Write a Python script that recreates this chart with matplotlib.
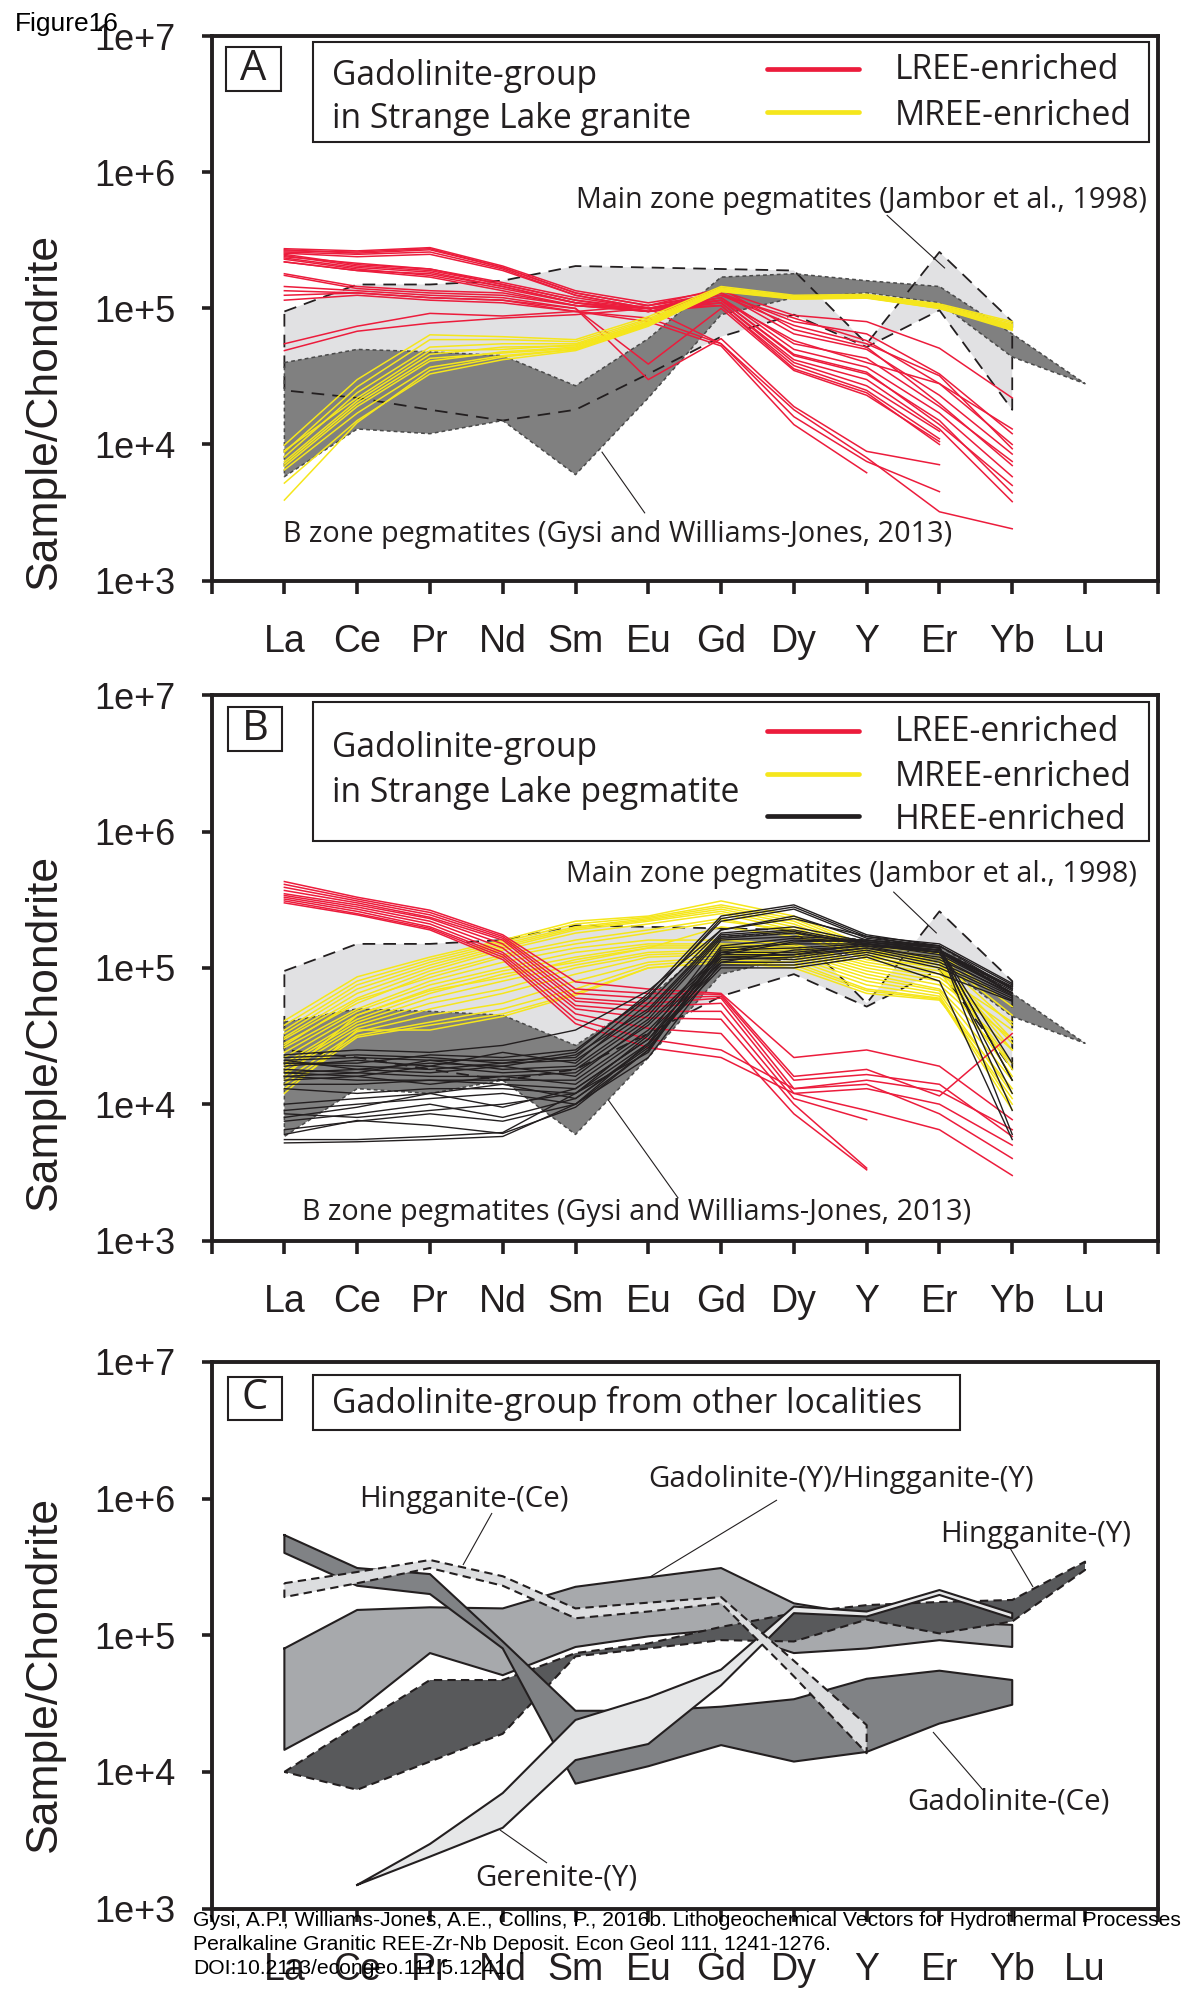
import numpy as np
import matplotlib
matplotlib.use('Agg')
import matplotlib.pyplot as plt
from matplotlib.patches import Rectangle
from matplotlib.lines import Line2D
from matplotlib.ticker import NullLocator

W, H = 1195, 1998
INK = '#231f20'
RED = '#ec1c3c'
YEL = '#f5e61c'
nan = np.nan

plt.rcParams['font.family'] = ['Liberation Sans', 'DejaVu Sans']

ELEMENTS = ['La', 'Ce', 'Pr', 'Nd', 'Sm', 'Eu', 'Gd', 'Dy', 'Y', 'Er', 'Yb', 'Lu']
YTICKS = [1e3, 1e4, 1e5, 1e6, 1e7]
YTICKLABELS = ['1e+3', '1e+4', '1e+5', '1e+6', '1e+7']

# main zone pegmatites (Jambor et al., 1998), La..Yb
MAIN_UP = [9.5e4, 1.5e5, 1.5e5, 1.6e5, 2.05e5, 2.0e5, 1.95e5, 1.9e5, 5.5e4, 2.6e5, 8.0e4]
MAIN_LO = [2.5e4, 2.2e4, 1.8e4, 1.5e4, 1.8e4, 3.3e4, 6.2e4, 9.0e4, 5.2e4, 9.7e4, 1.8e4]
# B zone pegmatites (Gysi and Williams-Jones, 2013), La..Lu
BZ_UP = [4.0e4, 5.0e4, 4.8e4, 4.5e4, 2.7e4, 6.0e4, 1.7e5, 1.8e5, 1.6e5, 1.45e5, 6.5e4, 2.8e4]
BZ_LO = [5.8e3, 1.3e4, 1.2e4, 1.5e4, 6.0e3, 2.2e4, 9.0e4, 1.2e5, 1.3e5, 1.1e5, 4.4e4, 2.8e4]

# panel A: granite, La..Yb
A_LREE = [
    [2.75e5, 2.65e5, 2.8e5, 2.05e5, 1.35e5, 1.1e5, 1.35e5, 8.9e4, 8.0e4, 5.1e4, 2.2e4],
    [2.7e5, 2.55e5, 2.7e5, 2.0e5, 1.3e5, 1.05e5, 1.3e5, 8.0e4, 6.5e4, 3.3e4, 1.2e4],
    [2.6e5, 2.5e5, 2.6e5, 1.95e5, 1.25e5, 1.0e5, 1.25e5, 7.5e4, 5.5e4, 3.2e4, 9.3e3],
    [2.55e5, 2.4e5, 2.5e5, 1.9e5, 1.25e5, 1.0e5, 1.3e5, 6.5e4, 5.0e4, 2.3e4, 8.5e3],
    [2.5e5, 2.1e5, 1.95e5, 1.55e5, 1.2e5, 1.0e5, 1.2e5, 5.5e4, 4.3e4, 1.9e4, 7.5e3],
    [2.45e5, 2.05e5, 1.9e5, 1.5e5, 1.15e5, 9.5e4, 1.2e5, 5.0e4, 3.7e4, 1.7e4, 5.8e3],
    [2.35e5, 2.0e5, 1.85e5, 1.45e5, 1.1e5, 9.5e4, 1.15e5, 4.5e4, 3.3e4, 1.5e4, 4.4e3],
    [2.3e5, 1.95e5, 1.75e5, 1.4e5, 1.1e5, 1.0e5, 1.1e5, 4.2e4, 3.0e4, 1.3e4, 3.8e3],
    [2.2e5, 1.9e5, 1.7e5, 1.35e5, 1.05e5, 9.5e4, 1.1e5, 4.0e4, 2.7e4, 1.25e4, nan],
    [1.8e5, 1.45e5, 1.35e5, 1.3e5, 1.05e5, 1.0e5, 1.05e5, 3.8e4, 2.5e4, 1.1e4, nan],
    [1.75e5, 1.4e5, 1.3e5, 1.25e5, 1.05e5, 9.5e4, 1.05e5, 3.6e4, 2.4e4, 1.0e4, nan],
    [1.45e5, 1.35e5, 1.25e5, 1.2e5, 1.0e5, 3.9e4, 1.0e5, 3.5e4, 2.3e4, 1.05e4, nan],
    [1.35e5, 1.3e5, 1.2e5, 1.15e5, 1.0e5, 3.0e4, 6.0e4, 1.9e4, 8.9e3, 7.1e3, nan],
    [1.25e5, 1.3e5, 1.2e5, 1.15e5, 9.5e4, 8.5e4, 5.5e4, 1.8e4, 8.0e3, 3.2e3, 2.4e3],
    [1.15e5, 1.25e5, 1.15e5, 1.1e5, 9.5e4, 8.0e4, 5.3e4, 1.4e4, 6.2e3, nan, nan],
    [5.5e4, 7.4e4, 9.2e4, 8.8e4, 9.5e4, 1.05e5, 1.25e5, 8.5e4, 5.8e4, 2.8e4, 1.0e4],
    [4.9e4, 6.8e4, 7.8e4, 8.5e4, 9.0e4, 1.0e5, 5.5e4, 1.6e4, 7.5e3, 4.5e3, nan],
    [2.65e5, 2.6e5, 2.75e5, 2.0e5, 1.3e5, 1.05e5, 1.4e5, 7.0e4, 5.2e4, 2.0e4, 7.0e3],
    [2.4e5, 2.15e5, 1.95e5, 1.5e5, 1.15e5, 1.0e5, 1.15e5, 4.6e4, 3.4e4, 1.4e4, 5.0e3],
    [2.2e5, 1.9e5, 1.8e5, 1.45e5, 1.1e5, 9.5e4, 1.15e5, 5.8e4, 4.0e4, 2.8e4, 1.3e4],
]
A_MREE = [
    [9.9e3, 3.0e4, 6.4e4, 6.2e4, 5.9e4, 8.7e4, 1.45e5, 1.25e5, 1.27e5, 1.08e5, 8.0e4],
    [8.8e3, 2.65e4, 5.9e4, 5.9e4, 5.7e4, 8.4e4, 1.42e5, 1.23e5, 1.25e5, 1.06e5, 7.8e4],
    [8.1e3, 2.4e4, 5.2e4, 5.5e4, 5.5e4, 8.2e4, 1.4e5, 1.22e5, 1.24e5, 1.05e5, 7.6e4],
    [7.5e3, 2.1e4, 4.6e4, 5.2e4, 5.3e4, 8.0e4, 1.38e5, 1.2e5, 1.22e5, 1.03e5, 7.4e4],
    [6.9e3, 1.9e4, 4.1e4, 4.8e4, 5.2e4, 7.8e4, 1.36e5, 1.19e5, 1.21e5, 1.02e5, 7.2e4],
    [6.5e3, 1.7e4, 3.7e4, 4.5e4, 5.0e4, 7.6e4, 1.35e5, 1.18e5, 1.2e5, 1.01e5, 7.0e4],
    [5.2e3, 1.5e4, 3.3e4, 4.2e4, 4.9e4, 7.4e4, 1.33e5, 1.17e5, 1.19e5, 1.0e5, 6.9e4],
    [3.9e3, 1.45e4, 3.5e4, 4.4e4, 5.0e4, 7.5e4, 1.34e5, 1.18e5, 1.2e5, 1.0e5, 7.1e4],
    [9.0e3, 2.2e4, 4.9e4, 5.0e4, 5.4e4, 7.9e4, 1.37e5, 1.2e5, 1.22e5, 1.03e5, 7.5e4],
    [7.2e3, 2.0e4, 4.3e4, 4.7e4, 5.1e4, 7.7e4, 1.36e5, 1.19e5, 1.21e5, 1.02e5, 7.3e4],
]

# panel B: pegmatite, La..Yb
B_LREE = [
    [4.3e5, 3.3e5, 2.65e5, 1.75e5, 7.9e4, 7.0e4, 6.5e4, 2.2e4, 2.5e4, 1.9e4, 7.7e3],
    [4.1e5, 3.2e5, 2.55e5, 1.7e5, 7.0e4, 6.5e4, 6.4e4, 1.6e4, 1.8e4, 1.15e4, 3.3e4],
    [3.9e5, 3.1e5, 2.45e5, 1.65e5, 6.5e4, 6.0e4, 6.2e4, 1.5e4, 1.65e4, 1.4e4, 5.8e3],
    [3.7e5, 3.0e5, 2.35e5, 1.6e5, 6.0e4, 5.5e4, 6.0e4, 1.3e4, 1.5e4, 1.25e4, 6.5e3],
    [3.5e5, 2.9e5, 2.3e5, 1.5e5, 5.7e4, 5.2e4, 5.5e4, 1.2e4, 1.3e4, 1.0e4, 5.0e3],
    [3.4e5, 2.8e5, 2.2e5, 1.4e5, 5.3e4, 4.8e4, 4.8e4, 1.1e4, 7.7e3, nan, nan],
    [3.3e5, 2.7e5, 2.1e5, 1.3e5, 5.0e4, 4.3e4, 4.2e4, 1.0e4, 3.4e3, nan, nan],
    [3.2e5, 2.6e5, 2.0e5, 1.25e5, 4.6e4, 3.6e4, 3.3e4, 8.5e3, 3.3e3, nan, nan],
    [3.1e5, 2.5e5, 1.95e5, 1.2e5, 4.2e4, 3.0e4, 2.5e4, 1.3e4, 1.4e4, 8.5e3, 4.0e3],
    [3.0e5, 2.45e5, 1.9e5, 1.15e5, 3.9e4, 2.6e4, 2.2e4, 1.2e4, 9.0e3, 6.5e3, 3.0e3],
]
B_MREE = [
    [4.1e4, 8.6e4, 1.2e5, 1.6e5, 2.2e5, 2.4e5, 3.1e5, 2.4e5, 1.45e5, 1.28e5, 5.2e4],
    [3.8e4, 8.0e4, 1.15e5, 1.55e5, 2.1e5, 2.35e5, 2.9e5, 2.3e5, 1.4e5, 1.2e5, 4.5e4],
    [3.5e4, 7.5e4, 1.1e5, 1.5e5, 2.0e5, 2.3e5, 2.8e5, 2.2e5, 1.35e5, 1.15e5, 3.8e4],
    [3.3e4, 7.0e4, 1.05e5, 1.45e5, 1.95e5, 2.25e5, 2.7e5, 2.1e5, 1.3e5, 1.1e5, 3.0e4],
    [3.1e4, 6.5e4, 1.0e5, 1.4e5, 1.9e5, 2.2e5, 2.6e5, 2.0e5, 1.25e5, 1.05e5, 2.5e4],
    [3.0e4, 6.0e4, 9.5e4, 1.35e5, 1.8e5, 2.1e5, 2.5e5, 1.9e5, 1.2e5, 1.0e5, 2.0e4],
    [2.8e4, 5.5e4, 9.0e4, 1.25e5, 1.6e5, 1.9e5, 2.3e5, 1.8e5, 1.15e5, 9.5e4, 1.6e4],
    [2.6e4, 5.0e4, 8.0e4, 1.1e5, 1.4e5, 1.6e5, 1.6e5, 1.5e5, 1.1e5, 9.0e4, 4.0e4],
    [2.4e4, 4.8e4, 7.5e4, 1.0e5, 1.3e5, 1.5e5, 1.5e5, 1.45e5, 1.05e5, 8.5e4, 3.5e4],
    [2.2e4, 4.5e4, 7.0e4, 9.5e4, 1.2e5, 1.45e5, 1.45e5, 1.4e5, 1.0e5, 8.0e4, 3.0e4],
    [2.0e4, 4.2e4, 6.5e4, 9.0e4, 1.1e5, 1.4e5, 1.4e5, 1.35e5, 9.5e4, 7.5e4, 2.5e4],
    [1.9e4, 4.0e4, 6.0e4, 8.0e4, 1.05e5, 1.3e5, 1.35e5, 1.3e5, 9.0e4, 7.0e4, 2.0e4],
    [1.8e4, 3.8e4, 5.5e4, 7.0e4, 1.0e5, 1.25e5, 1.3e5, 1.25e5, 8.5e4, 6.8e4, 1.5e4],
    [1.7e4, 3.6e4, 5.0e4, 6.5e4, 9.0e4, 1.2e5, 1.25e5, 1.2e5, 8.0e4, 6.5e4, 1.2e4],
    [1.5e4, 3.4e4, 4.5e4, 5.5e4, 8.0e4, 1.1e5, 1.2e5, 1.15e5, 7.5e4, 6.2e4, 1.0e4],
    [1.4e4, 3.2e4, 4.0e4, 5.0e4, 7.0e4, 1.05e5, 1.15e5, 1.1e5, 7.0e4, 6.0e4, 9.1e3],
    [1.3e4, 3.1e4, 3.8e4, 4.6e4, 6.5e4, 1.0e5, 1.1e5, 1.05e5, 6.8e4, 5.9e4, 1.1e4],
    [1.2e4, 3.5e4, 3.5e4, 4.4e4, 6.3e4, 1.0e5, 1.1e5, 1.0e5, 6.5e4, 5.8e4, 1.3e4],
    [1.6e4, 4.5e4, 6.8e4, 8.5e4, 1.15e5, 1.4e5, 2.0e5, 1.7e5, 1.2e5, 1.0e5, 2.8e4],
    [2.7e4, 5.8e4, 8.5e4, 1.2e5, 1.5e5, 1.8e5, 2.2e5, 1.9e5, 1.3e5, 1.1e5, 1.8e4],
]
B_HREE = [
    [2.2e4, 2.3e4, 2.2e4, 2.0e4, 2.4e4, 6.5e4, 2.4e5, 2.9e5, 1.75e5, 1.45e5, 7.5e4],
    [2.1e4, 2.2e4, 2.1e4, 2.1e4, 2.2e4, 6.0e4, 2.3e5, 2.8e5, 1.7e5, 1.4e5, 1.5e4],
    [2.0e4, 2.0e4, 2.3e4, 2.2e4, 2.5e4, 6.2e4, 2.2e5, 2.7e5, 1.65e5, 1.45e5, 9.0e3],
    [1.9e4, 2.1e4, 1.9e4, 2.4e4, 2.0e4, 5.5e4, 1.9e5, 2.4e5, 1.6e5, 1.4e5, 6.0e3],
    [2.1e4, 1.8e4, 2.0e4, 1.9e4, 2.3e4, 5.0e4, 1.8e5, 2.0e5, 1.55e5, 1.35e5, 7.0e4],
    [2.0e4, 1.9e4, 1.8e4, 2.0e4, 2.1e4, 4.8e4, 1.75e5, 1.9e5, 1.5e5, 1.3e5, 6.8e4],
    [1.8e4, 1.7e4, 2.1e4, 1.8e4, 1.9e4, 4.5e4, 1.7e5, 1.85e5, 1.45e5, 1.35e5, 6.5e4],
    [1.7e4, 1.6e4, 1.9e4, 1.7e4, 1.8e4, 4.2e4, 1.65e5, 1.8e5, 1.5e5, 1.3e5, 1.2e4],
    [1.7e4, 1.8e4, 1.7e4, 1.9e4, 1.6e4, 4.0e4, 1.3e5, 1.3e5, 1.45e5, 1.15e5, 6.5e4],
    [1.6e4, 1.7e4, 1.6e4, 1.6e4, 1.7e4, 3.8e4, 1.25e5, 1.25e5, 1.4e5, 1.1e5, 6.2e4],
    [1.6e4, 1.5e4, 1.5e4, 1.5e4, 1.5e4, 3.5e4, 1.2e5, 1.15e5, 1.35e5, 1.05e5, 6.0e4],
    [1.5e4, 1.6e4, 1.4e4, 1.6e4, 1.4e4, 3.3e4, 1.1e5, 1.1e5, 1.3e5, 1.0e5, 5.8e4],
    [1.4e4, 1.4e4, 1.5e4, 1.4e4, 1.3e4, 3.0e4, 1.05e5, 1.05e5, 1.25e5, 9.0e4, 5.7e4],
    [1.3e4, 1.2e4, 1.3e4, 1.3e4, 1.2e4, 2.8e4, 1.0e5, 1.0e5, 1.2e5, 8.0e4, 5.5e3],
    [1.0e4, 1.1e4, 1.2e4, 1.4e4, 1.1e4, 2.6e4, 1.15e5, 1.2e5, 1.4e5, 1.2e5, 6.3e4],
    [9.0e3, 1.0e4, 1.1e4, 1.2e4, 1.0e4, 2.5e4, 1.2e5, 1.25e5, 1.5e5, 1.25e5, 6.6e4],
    [8.5e3, 8.0e3, 9.0e3, 1.0e4, 1.2e4, 2.4e4, 1.4e5, 1.5e5, 1.5e5, 1.3e5, 7.2e4],
    [8.0e3, 9.5e3, 1.2e4, 9.5e3, 1.3e4, 3.0e4, 1.3e5, 1.6e5, 1.55e5, 1.4e5, 2.0e4],
    [7.5e3, 8.5e3, 1.0e4, 8.0e3, 1.1e4, 2.7e4, 1.25e5, 1.55e5, 1.6e5, 1.45e5, 7.0e4],
    [6.5e3, 7.5e3, 8.5e3, 7.5e3, 1.0e4, 2.2e4, 1.1e5, 1.35e5, 1.45e5, 1.3e5, 6.5e4],
    [6.0e3, 7.6e3, 7.0e3, 6.1e3, 9.5e3, 2.5e4, 1.35e5, 1.4e5, 1.5e5, 1.35e5, 7.0e4],
    [5.5e3, 5.5e3, 5.8e3, 6.2e3, 1.2e4, 3.2e4, 1.6e5, 1.7e5, 1.6e5, 1.4e5, 1.5e4],
    [5.2e3, 5.3e3, 5.5e3, 5.8e3, 1.0e4, 2.8e4, 1.45e5, 1.65e5, 1.55e5, 1.35e5, 7.3e4],
    [2.3e4, 2.5e4, 2.4e4, 2.7e4, 3.5e4, 6.8e4, 1.9e5, 2.3e5, 1.7e5, 1.5e5, 7.7e4],
]

# panel C fields
GADY_UP = [8.0e4, 1.53e5, 1.6e5, 1.57e5, 2.26e5, 2.65e5, 3.1e5, 1.71e5, 1.4e5, 1.25e5, 1.19e5]
GADY_LO = [1.45e4, 2.8e4, 7.4e4, 5.1e4, 8.2e4, 9.8e4, 1.1e5, 7.4e4, 8.0e4, 9.2e4, 8.2e4]
HINGY_UP = [1.0e4, 2.2e4, 4.7e4, 4.7e4, 7.4e4, 8.7e4, 1.15e5, 1.45e5, 1.66e5, 1.75e5, 1.81e5, 3.45e5]
HINGY_LO = [1.0e4, 7.4e3, 1.19e4, 1.9e4, 7.0e4, 8.0e4, 9.2e4, 9.0e4, 1.3e5, 1.03e5, 1.26e5, 3.0e5]
GADCE_UP = [5.4e5, 3.1e5, 2.8e5, 9.0e4, 2.8e4, 2.8e4, 3.0e4, 3.4e4, 4.8e4, 5.5e4, 4.7e4]
GADCE_LO = [4.0e5, 2.3e5, 2.0e5, 8.0e4, 8.2e3, 1.1e4, 1.57e4, 1.19e4, 1.4e4, 2.26e4, 3.1e4]
GER_X = [1, 2, 3, 4, 5, 6, 7, 8, 9, 10]
GER_UP = [1.49e3, 2.97e3, 7.0e3, 2.4e4, 3.5e4, 5.6e4, 1.62e5, 1.49e5, 2.14e5, 1.45e5]
GER_LO = [1.49e3, 2.4e3, 3.9e3, 1.22e4, 1.6e4, 4.3e4, 1.45e5, 1.37e5, 1.97e5, 1.33e5]
HINGCE_UP = [2.4e5, 2.9e5, 3.55e5, 2.7e5, 1.57e5, 1.73e5, 1.9e5, 6.5e4, 2.2e4]
HINGCE_LO = [1.9e5, 2.4e5, 3.1e5, 2.3e5, 1.33e5, 1.49e5, 1.71e5, 5.0e4, 1.37e4]


def fx(x):
    return x / W


def fy(y):
    return 1 - y / H


def band(ax, x, up, lo, fc, ec, ls, lw, zf, ze):
    x = np.asarray(x, float)
    xs = np.concatenate([x, x[::-1], x[:1]])
    ys = np.concatenate([up, lo[::-1], up[:1]])
    ax.fill(xs, ys, fc=fc, ec='none', zorder=zf)
    ax.plot(xs, ys, color=ec, ls=ls, lw=lw, zorder=ze)


def setup(ax):
    ax.set_yscale('log')
    ax.set_ylim(1e3, 1e7)
    ax.set_xlim(-1, 12)
    ax.set_yticks(YTICKS)
    ax.set_yticklabels(YTICKLABELS)
    ax.yaxis.set_minor_locator(NullLocator())
    ax.set_xticks(range(-1, 13))
    ax.set_xticklabels([''] + ELEMENTS + [''])
    ax.tick_params(axis='x', direction='out', length=9, width=2.6, pad=22,
                   labelsize=27, colors=INK)
    ax.tick_params(axis='y', direction='out', length=7.2, width=2.6, pad=19,
                   labelsize=26, colors=INK)
    for s in ax.spines.values():
        s.set_linewidth(2.8)
        s.set_color(INK)


def fig_box(fig, x0, y0, x1, y1, lw=1.5):
    fig.add_artist(Rectangle((fx(x0), fy(y1)), (x1 - x0) / W, (y1 - y0) / H,
                             transform=fig.transFigure, fc='white', ec=INK,
                             lw=lw, zorder=5))


def fig_line(fig, x0, y0, x1, y1, color=INK, lw=0.8, cap='butt'):
    fig.add_artist(Line2D([fx(x0), fx(x1)], [fy(y0), fy(y1)],
                          transform=fig.transFigure, color=color, lw=lw,
                          solid_capstyle=cap, zorder=6))


def fig_text(fig, x, y, s, size=20.7, family='Open Sans', va='baseline', **kw):
    fig.text(fx(x), fy(y), s, fontsize=size, family=family, va=va,
             color=INK, zorder=7, **kw)


def fields(ax):
    idx = np.arange(11)
    band(ax, idx, MAIN_UP, MAIN_LO, '#e1e1e3', INK, (0, (7, 4.5)), 1.3, 1, 2.5)
    band(ax, np.arange(12), BZ_UP, BZ_LO, '#808080', '#4a4a4a', (0, (2.5, 2)),
         1.1, 2, 2.6)


fig = plt.figure(figsize=(W / 100, H / 100), dpi=100)
left = 211.6 / W
width = (1157.8 - 211.6) / W
axA = fig.add_axes([left, fy(580.5), width, (580.5 - 36.4) / H])
axB = fig.add_axes([left, fy(1240.5), width, (1240.5 - 695.3) / H])
axC = fig.add_axes([left, fy(1908.6), width, (1908.6 - 1361.8) / H])
idx = np.arange(11)

# panel A
fields(axA)
for row in A_LREE:
    axA.plot(idx, row, color=RED, lw=1.1, zorder=4)
for row in A_MREE:
    axA.plot(idx, row, color=YEL, lw=1.1, zorder=5)
setup(axA)

# panel B
fields(axB)
for row in B_MREE:
    axB.plot(idx, row, color=YEL, lw=1.1, zorder=4)
for row in B_LREE:
    axB.plot(idx, row, color=RED, lw=1.1, zorder=5)
for row in B_HREE:
    axB.plot(idx, row, color=INK, lw=1.0, zorder=6)
setup(axB)

# panel C
band(axC, idx, GADY_UP, GADY_LO, '#a7a9ac', INK, '-', 1.5, 1, 1.1)
band(axC, np.arange(12), HINGY_UP, HINGY_LO, '#58595b', INK, (0, (4, 2.5)), 1.5, 2, 2.1)
band(axC, idx, GADCE_UP, GADCE_LO, '#808285', INK, '-', 1.5, 3, 3.1)
band(axC, GER_X, GER_UP, GER_LO, '#e6e7e8', INK, '-', 1.5, 4, 4.1)
band(axC, np.arange(9), HINGCE_UP, HINGCE_LO, '#dcdddf', INK, (0, (4, 2.5)), 1.5, 5, 5.1)
setup(axC)

# y labels
for yc in (411, 1032, 1674):
    fig.text(fx(44), fy(yc), 'Sample/Chondrite', rotation=90, fontsize=32,
             va='center', ha='center', color=INK)

# panel A boxes and legend
fig_box(fig, 225.8, 47.4, 280.5, 90.9)
fig_text(fig, 253.2, 69.2, 'A', size=30, va='center', ha='center')
fig_box(fig, 312.7, 42.0, 1149.0, 141.6)
fig_text(fig, 332, 85, 'Gadolinite-group', size=24.2)
fig_text(fig, 332, 128.5, 'in Strange Lake granite', size=24.2)
fig_line(fig, 767, 69.2, 859, 69.2, color=RED, lw=3.4, cap='round')
fig_line(fig, 767, 111.5, 859, 111.5, color=YEL, lw=3.4, cap='round')
fig_text(fig, 895, 79, 'LREE-enriched', size=24.2)
fig_text(fig, 895, 124.6, 'MREE-enriched', size=24.2)
fig_text(fig, 576, 208.3, 'Main zone pegmatites (Jambor et al., 1998)')
fig_line(fig, 886.7, 215, 945, 268.3)
fig_text(fig, 282.7, 541.7, 'B zone pegmatites (Gysi and Williams-Jones, 2013)')
fig_line(fig, 601.7, 451.7, 645, 513.3)

# panel B boxes and legend
fig_box(fig, 227.7, 707, 282.4, 750.5)
fig_text(fig, 255, 728.7, 'B', size=30, va='center', ha='center')
fig_box(fig, 312.7, 701.6, 1149.0, 840.9)
fig_text(fig, 332, 756.7, 'Gadolinite-group', size=24.2)
fig_text(fig, 332, 802.3, 'in Strange Lake pegmatite', size=24.2)
fig_line(fig, 767, 731, 859, 731, color=RED, lw=3.4, cap='round')
fig_line(fig, 767, 774, 859, 774, color=YEL, lw=3.4, cap='round')
fig_line(fig, 767, 816, 859, 816, color=INK, lw=3.4, cap='round')
fig_text(fig, 895, 741.4, 'LREE-enriched', size=24.2)
fig_text(fig, 895, 785.7, 'MREE-enriched', size=24.2)
fig_text(fig, 895, 829.3, 'HREE-enriched', size=24.2)
fig_text(fig, 566, 881.7, 'Main zone pegmatites (Jambor et al., 1998)')
fig_line(fig, 893.3, 891.7, 936.7, 933.3)
fig_text(fig, 301.7, 1220, 'B zone pegmatites (Gysi and Williams-Jones, 2013)')
fig_line(fig, 608.3, 1100, 678.3, 1198.3)

# panel C boxes and labels
fig_box(fig, 227.7, 1377, 282.4, 1419.7)
fig_text(fig, 255, 1398.3, 'C', size=30, va='center', ha='center')
fig_box(fig, 312.7, 1374.8, 959.8, 1430)
fig_text(fig, 332, 1413.4, 'Gadolinite-group from other localities', size=24.3)
fig_text(fig, 359, 1507.3, 'Hingganite-(Ce)', size=21.2)
fig_line(fig, 492, 1513, 463, 1565)
fig_text(fig, 648.3, 1486.7, 'Gadolinite-(Y)/Hingganite-(Y)', size=21.2)
fig_line(fig, 777, 1500, 650, 1577)
fig_text(fig, 940, 1541.7, 'Hingganite-(Y)', size=21.2)
fig_line(fig, 1010, 1548, 1033, 1587)
fig_text(fig, 907, 1810, 'Gadolinite-(Ce)', size=21.2)
fig_line(fig, 983, 1790, 933, 1732)
fig_text(fig, 475, 1885, 'Gerenite-(Y)', size=21.2)
fig_line(fig, 547, 1863, 500, 1830)

# header and citation
fig.text(fx(14.5), fy(24), 'Figure16', fontsize=19, va='center', color='black')
cite = [
    'Gysi, A.P., Williams-Jones, A.E., Collins, P., 2016b. Lithogeochemical Vectors for Hydrothermal Processes',
    'Peralkaline Granitic REE-Zr-Nb Deposit. Econ Geol 111, 1241-1276.',
    'DOI:10.2113/econgeo.111.5.1241.',
]
for yc, line in zip((1921, 1945, 1969), cite):
    fig.text(fx(193), fy(yc), line, fontsize=15.2, va='center', color='black')

fig.savefig('out.png', dpi=100)
